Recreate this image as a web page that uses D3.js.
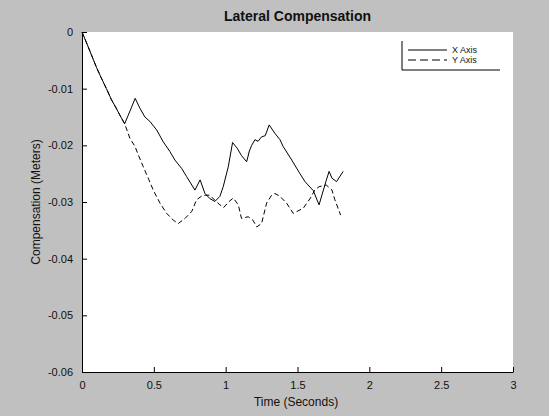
<!DOCTYPE html>
<html><head><meta charset="utf-8">
<script src="https://cdn.jsdelivr.net/npm/d3@7"></script>
<style>
html,body{margin:0;padding:0;background:#c0c0c0;}
svg{display:block;}
text{font-family:"Liberation Sans",Arial,sans-serif;}
</style></head>
<body>
<svg id="chart" width="549" height="416"></svg>
<script>
const titleText = "Lateral Compensation";
const xLabel = "Time (Seconds)";
const yLabel = "Compensation (Meters)";
const seriesNames = ["X Axis", "Y Axis"];
const xTicks = [0, 0.5, 1, 1.5, 2, 2.5, 3];
const xTickLabels = ["0", "0.5", "1", "1.5", "2", "2.5", "3"];
const yTicks = [0, -0.01, -0.02, -0.03, -0.04, -0.05, -0.06];
const yTickLabels = ["0", "-0.01", "-0.02", "-0.03", "-0.04", "-0.05", "-0.06"];

const xAxisTime = [0,0.03,0.065,0.10,0.134,0.17,0.204,0.235,0.262,0.297,0.32,0.343,0.37,0.404,0.438,0.473,0.52,0.566,0.612,0.647,0.694,0.728,0.786,0.822,0.856,0.89,0.925,0.96,0.983,1.018,1.048,1.08,1.11,1.146,1.165,1.181,1.204,1.225,1.25,1.275,1.303,1.343,1.378,1.40,1.46,1.517,1.552,1.61,1.65,1.70,1.72,1.74,1.772,1.818];
const xAxisValues = [0,-0.0018,-0.0040,-0.0062,-0.0081,-0.0100,-0.0119,-0.0133,-0.0146,-0.0162,-0.0148,-0.0134,-0.0117,-0.0135,-0.0150,-0.0158,-0.0173,-0.0194,-0.0211,-0.0226,-0.0241,-0.0255,-0.0279,-0.0261,-0.0285,-0.0294,-0.0299,-0.0290,-0.0273,-0.0238,-0.0195,-0.0205,-0.0218,-0.0229,-0.0210,-0.0200,-0.0190,-0.0193,-0.0185,-0.0183,-0.0164,-0.0179,-0.0190,-0.0202,-0.0226,-0.0250,-0.0264,-0.0280,-0.0305,-0.0262,-0.0246,-0.0258,-0.0264,-0.0246];

const yAxisTime = [0,0.03,0.065,0.10,0.134,0.17,0.204,0.235,0.262,0.297,0.334,0.369,0.392,0.427,0.461,0.496,0.543,0.589,0.635,0.67,0.717,0.763,0.798,0.83,0.856,0.89,0.925,0.96,0.985,1.02,1.053,1.088,1.11,1.157,1.19,1.216,1.25,1.285,1.32,1.343,1.378,1.424,1.47,1.54,1.59,1.62,1.65,1.70,1.74,1.76,1.80];
const yAxisValues = [0,-0.0018,-0.0040,-0.0062,-0.0081,-0.0100,-0.0119,-0.0133,-0.0146,-0.0162,-0.0188,-0.0202,-0.0217,-0.0238,-0.0258,-0.0279,-0.0302,-0.0320,-0.0332,-0.0338,-0.0329,-0.0317,-0.0296,-0.0290,-0.0288,-0.0288,-0.0297,-0.0305,-0.0310,-0.0300,-0.0293,-0.0305,-0.0329,-0.0326,-0.0332,-0.0344,-0.0338,-0.0302,-0.0288,-0.0285,-0.0290,-0.0302,-0.0320,-0.0311,-0.0293,-0.0279,-0.0273,-0.0270,-0.0279,-0.0296,-0.0323];

const svg = d3.select("#chart");
const L = 82, R = 513, T = 32, B = 372;

svg.append("rect").attr("x", L).attr("y", T).attr("width", R - L).attr("height", B - T).attr("fill", "#ffffff");

const x = d3.scaleLinear().domain([0, 3]).range([L, R]);
const y = d3.scaleLinear().domain([-0.06, 0]).range([B, T]);

// x axis
const gx = svg.append("g").attr("transform", `translate(0,${B})`)
  .call(d3.axisBottom(x).tickValues(xTicks).tickFormat((d, i) => xTickLabels[i]).tickSizeInner(-5).tickSizeOuter(0).tickPadding(9));
gx.select(".domain").attr("stroke", "#000");
gx.selectAll(".tick line").attr("stroke", "#000");
gx.selectAll(".tick text").attr("font-size", 11).attr("fill", "#111").attr("font-family", "Liberation Sans, Arial, sans-serif");

// y axis
const gy = svg.append("g").attr("transform", `translate(${L},0)`)
  .call(d3.axisLeft(y).tickValues(yTicks).tickFormat((d, i) => yTickLabels[i]).tickSizeInner(-5).tickSizeOuter(0).tickPadding(9));
gy.select(".domain").attr("stroke", "#000");
gy.selectAll(".tick line").attr("stroke", "#000");
gy.selectAll(".tick text").attr("font-size", 11).attr("fill", "#111").attr("font-family", "Liberation Sans, Arial, sans-serif");

// lines
const line = d3.line().x(d => x(d[0])).y(d => y(d[1]));
const xData = xAxisTime.map((t, i) => [t, xAxisValues[i]]);
const yData = yAxisTime.map((t, i) => [t, yAxisValues[i]]);
svg.append("path").datum(xData).attr("d", line).attr("fill", "none").attr("stroke", "#000").attr("stroke-width", 1);
svg.append("path").datum(yData).attr("d", line).attr("fill", "none").attr("stroke", "#000").attr("stroke-width", 1).attr("stroke-dasharray", "5,3");

// title & labels
svg.append("text").attr("x", (L + R) / 2).attr("y", 21).attr("text-anchor", "middle")
  .attr("font-size", 14).attr("font-weight", "bold").attr("fill", "#111").text(titleText);
svg.append("text").attr("x", 296).attr("y", 406).attr("text-anchor", "middle")
  .attr("font-size", 12).attr("fill", "#111").text(xLabel);
svg.append("text").attr("transform", `translate(40,${(T + B) / 2}) rotate(-90)`).attr("text-anchor", "middle")
  .attr("font-size", 12).attr("fill", "#111").text(yLabel);

// legend
const lg = svg.append("g");
lg.append("line").attr("x1", 402).attr("x2", 402).attr("y1", 41).attr("y2", 70).attr("stroke", "#000");
lg.append("line").attr("x1", 402).attr("x2", 500).attr("y1", 70).attr("y2", 70).attr("stroke", "#000");
const legY = [50, 60];
seriesNames.forEach((name, i) => {
  lg.append("line").attr("x1", 408).attr("x2", 447).attr("y1", legY[i]).attr("y2", legY[i])
    .attr("stroke", "#000").attr("stroke-dasharray", i === 1 ? "8,4" : null);
  lg.append("text").attr("x", 452).attr("y", legY[i] + 3).attr("font-size", 9).attr("fill", "#111").text(name);
});
</script>
</body></html>
